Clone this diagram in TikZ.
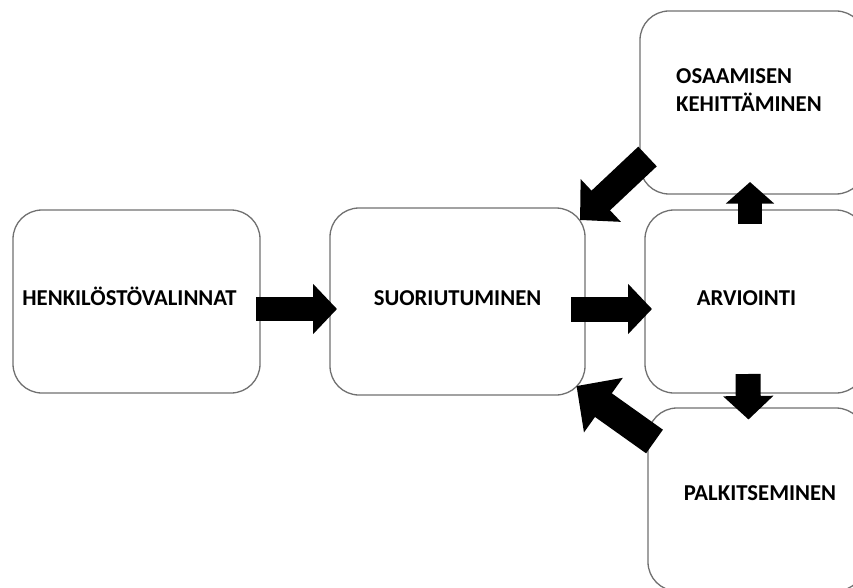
\documentclass[tikz,border=0pt]{standalone}
\usepackage{fontspec}
\setmainfont{Carlito}
\usetikzlibrary{arrows.meta,calc}
\tikzset{
  box/.style={draw=boxgray, line width=1.3pt, rounded corners=29pt, minimum width=#1, inner sep=0pt, outer sep=0pt},
  lbl/.style={font=\fontsize{22.7}{28.4}\selectfont\bfseries, inner sep=0pt, align=left},
  blockarrow/.style={line width=#1, line cap=butt, draw=black},
}
\definecolor{boxgray}{HTML}{707070}
\begin{document}
\begin{tikzpicture}[x=1pt,y=-1pt]
\useasboundingbox (0,0) rectangle (853,588);
\clip (0,0) rectangle (853,588);
% boxes
\node[box=247pt, minimum height=183pt] (henk) at (136.5,301.5) {};
\node[box=255pt, minimum height=187pt] (suor) at (457.5,301.5) {};
\node[box=225pt, minimum height=183pt] (osaa) at (752.5,102.5) {};
\node[box=220pt, minimum height=183pt] (arvio) at (755,301.5) {};
\node[box=217pt, minimum height=183pt] (palk) at (756.5,499.5) {};
% texts
\node[lbl, anchor=base] (thenk) at (129.5,305) {HENKILÖSTÖVALINNAT};
\node[lbl, anchor=base] (tsuor) at (457.5,305) {SUORIUTUMINEN};
\node[lbl, anchor=base] (tarvio) at (746.5,305) {ARVIOINTI};
\node[lbl, anchor=base west] (tosaa) at (676,111.7) {OSAAMISEN\\KEHITTÄMINEN};
\node[lbl, anchor=base] (tpalk) at (760,500) {PALKITSEMINEN};
% arrows
\draw[blockarrow=24pt, -{Triangle[length=24pt,width=49pt]}]
  ($(henk.east)+(-4,7.5)$) -- ($(suor.west)+(7,7.5)$);
\draw[blockarrow=25pt, -{Triangle[length=24pt,width=49pt]}]
  ($(suor.east)+(-14,7.5)$) -- ($(arvio.west)+(7,7.5)$);
\draw[blockarrow=23.5pt, -{Triangle[length=21.5pt,width=47pt]}]
  ($(arvio.north)+(-5,14)$) -- ($(osaa.south)+(-2.5,-12)$);
\draw[blockarrow=25pt, -{Triangle[length=23.5pt,width=49pt]}]
  ($(arvio.south)+(-7,-19)$) -- ($(palk.north)+(-8,11.5)$);
\draw[blockarrow=27pt, -{Triangle[length=28.5pt,width=57pt]}]
  ($(osaa.south west)+(7.5,-37.5)$) -- ($(suor.north east)+(-5,12)$);
\draw[blockarrow=29pt, -{Triangle[length=33pt,width=65pt]}]
  ($(palk.north west)+(6.5,33.5)$) -- ($(suor.south east)+(-8.5,-9)$);
\end{tikzpicture}
\end{document}
